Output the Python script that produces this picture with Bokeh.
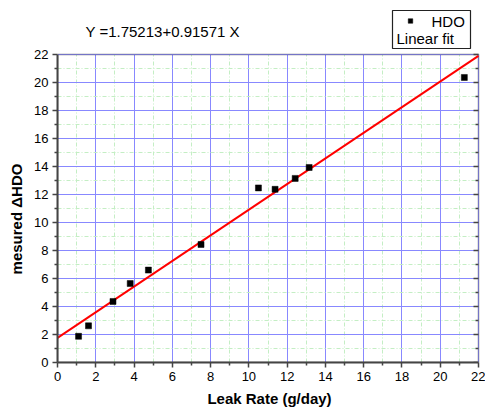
from bokeh.plotting import figure
from bokeh.models import Range1d, FixedTicker, Label, BoxAnnotation
from bokeh.embed import file_html
from bokeh.resources import INLINE

# data
leak_rate = [1.1, 1.62, 2.9, 3.8, 4.75, 7.5, 10.5, 11.37, 12.42, 13.15, 21.26]
hdo = [1.87, 2.62, 4.36, 5.64, 6.6, 8.43, 12.47, 12.37, 13.15, 13.93, 20.36]
intercept = 1.75213
slope = 0.91571
x_lim = [0, 22]
y_lim = [0, 22]
major_ticks = [0, 2, 4, 6, 8, 10, 12, 14, 16, 18, 20, 22]
minor_ticks = [1, 3, 5, 7, 9, 11, 13, 15, 17, 19, 21]
x_title = "Leak Rate (g/day)"
y_title = "mesured \u0394HDO"
eq_text = "Y =1.75213+0.91571 X"
legend_labels = ["HDO", "Linear fit"]

FONT = "Liberation Sans"
DARK = "#444444"

# layout: frame spans canvas px 57..481 (x) and 0..362 (y); data 0..22 maps to 57..478 / 362..54
PX_X = 421 / 22.0
PX_Y = 308 / 22.0
x_end = 424 / PX_X
y_end = 362 / PX_Y


def dx(px):
    return (px - 57) / PX_X


def dy(py):
    return (362 - py) / PX_Y


p = figure(width=485, height=410, output_backend="svg", toolbar_location=None,
           x_range=Range1d(0, x_end), y_range=Range1d(0, y_end),
           min_border_left=57, min_border_right=4, min_border_top=0,
           min_border_bottom=48, background_fill_color="white",
           border_fill_color="white")
p.outline_line_color = None

for ax in (p.xaxis[0], p.yaxis[0]):
    ax.ticker = FixedTicker(ticks=major_ticks, minor_ticks=minor_ticks)
    ax.axis_line_color = DARK
    ax.axis_line_width = 2
    ax.major_tick_line_color = DARK
    ax.minor_tick_line_color = DARK
    ax.major_tick_line_width = 1.5
    ax.minor_tick_line_width = 1.5
    ax.major_tick_out = 5
    ax.major_tick_in = 0
    ax.minor_tick_out = 3
    ax.minor_tick_in = 0
    ax.major_label_text_font = FONT
    ax.major_label_text_font_size = "13px"
    ax.major_label_text_color = "black"
    ax.axis_label_text_font = FONT
    ax.axis_label_text_font_size = "15px"
    ax.axis_label_text_font_style = "bold"
    ax.axis_label_text_color = "black"
    ax.major_label_standoff = 4

p.xaxis[0].bounds = (x_lim[0], x_lim[1])
p.yaxis[0].bounds = (y_lim[0], y_lim[1])
p.xaxis[0].axis_label = x_title
# non-breaking spaces shift the label down so it sits where the reference has it
p.yaxis[0].axis_label = y_title + "\u00a0" * 18
p.xaxis[0].axis_label_standoff = 6
p.yaxis[0].axis_label_standoff = 6

p.xgrid[0].cross_bounds = (y_lim[0], y_lim[1])
p.ygrid[0].cross_bounds = (x_lim[0], x_lim[1])
for g in (p.xgrid[0], p.ygrid[0]):
    g.ticker = FixedTicker(ticks=major_ticks, minor_ticks=minor_ticks)
    g.grid_line_color = "#8888ff"
    g.grid_line_width = 1
    g.minor_grid_line_color = "#c4eec4"
    g.minor_grid_line_dash = "4 2 1 2"
    g.minor_grid_line_width = 1

# frame border (top and right sides)
p.add_layout(BoxAnnotation(left=x_lim[0], right=x_lim[1], bottom=y_lim[0], top=y_lim[1],
                           fill_alpha=0, line_color=DARK, line_width=2, level="underlay"))

# inward ticks on the right side
p.segment(x0=[x_lim[1]] * len(major_ticks), x1=[x_lim[1] - 5 / PX_X] * len(major_ticks),
          y0=major_ticks, y1=major_ticks, line_color=DARK, line_width=1.5)
p.segment(x0=[x_lim[1]] * len(minor_ticks), x1=[x_lim[1] - 3 / PX_X] * len(minor_ticks),
          y0=minor_ticks, y1=minor_ticks, line_color=DARK, line_width=1.5)

fit_x = [x_lim[0], x_lim[1]]
fit_y = [intercept + slope * v for v in fit_x]
p.line(fit_x, fit_y, line_color="#ff0000", line_width=2)
p.scatter(leak_rate, hdo, marker="square", size=6, fill_color="black",
          line_color="black", line_width=0.5)

# equation text
p.add_layout(Label(x=dx(85), y=dy(31), text=eq_text, text_font=FONT,
                   text_font_size="15px", text_color="black", text_baseline="alphabetic"))

# legend (manual)
p.quad(left=[dx(392)], right=[dx(470)], top=[dy(10)], bottom=[dy(48)],
       fill_color="white", line_color="#222222", line_width=1.2)
p.scatter([dx(410)], [dy(20.5)], marker="square", size=4.5, fill_color="black",
          line_color="black", line_width=0.5)
p.add_layout(Label(x=dx(431), y=dy(21), text=legend_labels[0], text_font=FONT,
                   text_font_size="15px", text_color="black", text_baseline="alphabetic"))
p.add_layout(Label(x=dx(396), y=dy(38), text=legend_labels[1], text_font=FONT,
                   text_font_size="15px", text_color="black", text_baseline="alphabetic"))

open("out.html", "w").write(file_html(p, INLINE))
